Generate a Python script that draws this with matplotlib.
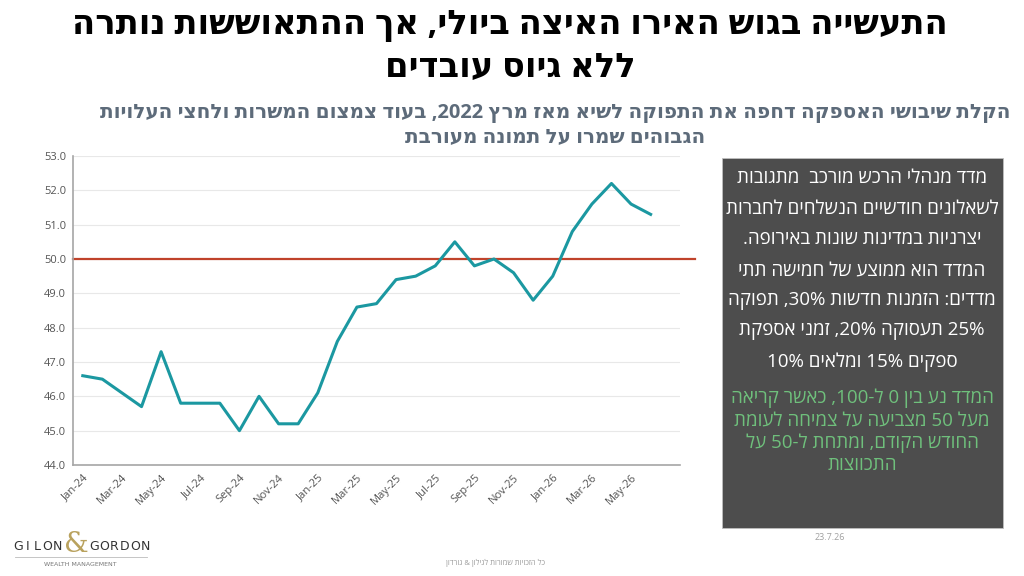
import re
import numpy as np
import matplotlib.pyplot as plt
from matplotlib.patches import Rectangle

HEB = ['Open Sans', 'DejaVu Sans']
plt.rcParams['font.family'] = HEB


def heb(s):
    # matplotlib has no bidi: put RTL text in visual order, numbers stay LTR
    toks = re.findall(r'[0-9]+(?:[.,][0-9]+)*%?|[A-Za-z]+|.', s)
    return ''.join(reversed(toks))


months = ['Jan-24', 'Feb-24', 'Mar-24', 'Apr-24', 'May-24', 'Jun-24',
          'Jul-24', 'Aug-24', 'Sep-24', 'Oct-24', 'Nov-24', 'Dec-24',
          'Jan-25', 'Feb-25', 'Mar-25', 'Apr-25', 'May-25', 'Jun-25',
          'Jul-25', 'Aug-25', 'Sep-25', 'Oct-25', 'Nov-25', 'Dec-25',
          'Jan-26', 'Feb-26', 'Mar-26', 'Apr-26', 'May-26', 'Jun-26']
pmi = [46.6, 46.5, 46.1, 45.7, 47.3, 45.8, 45.8, 45.8, 45.0, 46.0, 45.2, 45.2,
       46.1, 47.6, 48.6, 48.7, 49.4, 49.5, 49.8, 50.5, 49.8, 50.0, 49.6, 48.8,
       49.5, 50.8, 51.6, 52.2, 51.6, 51.3]
threshold = 50.0
y_ticks = [44.0, 45.0, 46.0, 47.0, 48.0, 49.0, 50.0, 51.0, 52.0, 53.0]

title = ['התעשייה בגוש האירו האיצה ביולי, אך ההתאוששות נותרה',
         'ללא גיוס עובדים']
subtitle = ['הקלת שיבושי האספקה דחפה את התפוקה לשיא מאז מרץ 2022, בעוד צמצום המשרות ולחצי העלויות',
            'הגבוהים שמרו על תמונה מעורבת']
box_lines = ['מדד מנהלי הרכש מורכב  מתגובות',
             'לשאלונים חודשיים הנשלחים לחברות',
             'יצרניות במדינות שונות באירופה.',
             'המדד הוא ממוצע של חמישה תתי',
             'מדדים: הזמנות חדשות 30%, תפוקה',
             '25% תעסוקה 20%, זמני אספקת',
             'ספקים 15% ומלאים 10%']
green_lines = ['המדד נע בין 0 ל-100, כאשר קריאה',
               'מעל 50 מצביעה על צמיחה לעומת',
               'החודש הקודם, ומתחת ל-50 על',
               'התכווצות']
footer = 'כל הזכויות שמורות לגילון & גורדון'
date_txt = '23.7.26'

fig = plt.figure(figsize=(10.24, 5.76), dpi=100)
W, H = 1024, 576


def fx(px):
    return px / W


def fy(py):
    return 1 - py / H


# titles
fig.text(fx(510), fy(25), heb(title[0]), ha='center', va='center',
         fontsize=24.3, fontweight='bold', color='black')
fig.text(fx(510), fy(68), heb(title[1]), ha='center', va='center',
         fontsize=24.3, fontweight='bold', color='black')
fig.text(fx(555), fy(113), heb(subtitle[0]), ha='center', va='center',
         fontsize=14.4, fontweight='bold', color='#5d6b7a')
fig.text(fx(555), fy(137), heb(subtitle[1]), ha='center', va='center',
         fontsize=14.4, fontweight='bold', color='#5d6b7a')

# chart
ax = fig.add_axes([fx(73), fy(465), fx(680) - fx(73), fy(156) - fy(465)])
x = np.arange(len(pmi))
ax.plot(x, pmi, color='#1b98a1', lw=2.2, zorder=3)
ax.axhline(threshold, xmin=0, xmax=1.025, color='#c0432b', lw=1.6,
           clip_on=False, zorder=2)
ax.set_xlim(-0.5, len(pmi) + 0.5)
ax.set_ylim(y_ticks[0], y_ticks[-1])
ax.set_yticks(y_ticks)
ax.set_yticklabels([f'{v:.1f}' for v in y_ticks], fontsize=8, color='#555555')
ax.set_xticks(x[::2])
ax.set_xticklabels(months[::2], rotation=45, ha='right', rotation_mode='anchor',
                   fontsize=8, color='#555555')
ax.tick_params(length=0, pad=5)
ax.grid(axis='y', color='#e8e8e8', lw=0.8)
ax.set_axisbelow(True)
for s in ['top', 'right']:
    ax.spines[s].set_visible(False)
for s in ['left', 'bottom']:
    ax.spines[s].set_color('#a6a6a6')
    ax.spines[s].set_linewidth(1.2)

# side text box
fig.patches.append(Rectangle((fx(722), fy(528)), fx(1003) - fx(722), fy(158) - fy(528),
                             transform=fig.transFigure, facecolor='#4d4d4d',
                             edgecolor='#bfbfbf', lw=0.6))
cx = fx(862)
for i, line in enumerate(box_lines):
    fig.text(cx, fy(178 + i * 30.7), heb(line), ha='center', va='center',
             fontsize=13.5, color='white')
for i, line in enumerate(green_lines):
    fig.text(cx, fy(398 + i * 22.5), heb(line), ha='center', va='center',
             fontsize=13.5, color='#6fc07c')

fig.text(fx(830), fy(537), date_txt, ha='center', va='center', fontsize=6.5,
         color='#a0a0a0')
fig.text(fx(495), fy(563), heb(footer), ha='center', va='center', fontsize=5.5,
         color='#9a9a9a')

# logo
for i, ch in enumerate('GILON'):
    fig.text(fx(18 + i * 9.8), fy(546), ch, ha='center', va='center', fontsize=9,
             color='#333333', family='DejaVu Sans')
fig.text(fx(76), fy(545), '&', ha='center', va='center', fontsize=20,
         color='#b9a25e', family='DejaVu Serif')
for i, ch in enumerate('GORDON'):
    fig.text(fx(94 + i * 10.2), fy(546), ch, ha='center', va='center', fontsize=9,
             color='#333333', family='DejaVu Sans')
fig.add_artist(plt.Line2D([fx(15), fx(147)], [fy(557), fy(557)], color='#bbbbbb', lw=0.6))
fig.text(fx(80), fy(565), 'WEALTH MANAGEMENT', ha='center', va='center', fontsize=4.5,
         color='#777777', family='DejaVu Sans')

fig.savefig('out.png', dpi=100)
